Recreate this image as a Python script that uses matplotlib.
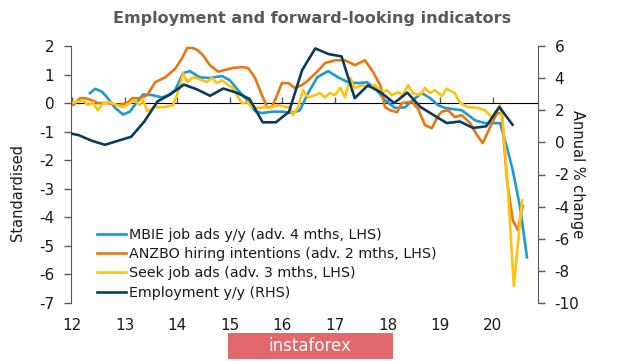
import numpy as np
import matplotlib
matplotlib.use("Agg")
import matplotlib.pyplot as plt
from matplotlib.patches import Rectangle

# ---------------- data ----------------
title = "Employment and forward-looking indicators"
year_ticks = [12, 13, 14, 15, 16, 17, 18, 19, 20]
left_ticks = [2, 1, 0, -1, -2, -3, -4, -5, -6, -7]
right_ticks = [6, 4, 2, 0, -2, -4, -6, -8, -10]

labels = ["MBIE job ads y/y (adv. 4 mths, LHS)",
          "ANZBO hiring intentions (adv. 2 mths, LHS)",
          "Seek job ads (adv. 3 mths, LHS)",
          "Employment y/y (RHS)"]

mbie_x = [12.34, 12.44, 12.57, 12.68, 12.82, 12.97, 13.10, 13.24, 13.35, 13.52, 13.71, 13.83,
          13.96, 14.11, 14.24, 14.43, 14.62, 14.85, 15.00, 15.16, 15.33, 15.48, 15.61, 15.80,
          16.01, 16.18, 16.33, 16.49, 16.66, 16.75, 16.87, 17.06, 17.25, 17.44, 17.61, 17.80,
          17.95, 18.14, 18.33, 18.52, 18.65, 18.81, 18.96, 19.09, 19.41, 19.66, 19.85, 20.04,
          20.14, 20.27, 20.38, 20.52, 20.65]
mbie_y = [0.35, 0.5, 0.4, 0.17, -0.17, -0.4, -0.3, 0.05, 0.3, 0.28, 0.2, 0.28,
          0.45, 1.05, 1.12, 0.9, 0.88, 0.95, 0.8, 0.45, 0.1, -0.28, -0.35, -0.3,
          -0.3, -0.35, -0.25, 0.35, 0.9, 1.0, 1.12, 0.9, 0.73, 0.7, 0.73, 0.45,
          0.1, -0.17, -0.15, 0.17, 0.35, 0.17, -0.07, -0.17, -0.25, -0.6, -0.7, -0.7,
          -0.7, -1.55, -2.35, -3.65, -5.4]

anzbo_x = [11.95, 12.02, 12.15, 12.25, 12.38, 12.49, 12.68, 12.87, 13.05, 13.14, 13.29, 13.43,
           13.58, 13.77, 13.96, 14.09, 14.19, 14.30, 14.38, 14.49, 14.62, 14.78, 14.91, 15.06,
           15.23, 15.35, 15.48, 15.61, 15.71, 15.80, 15.90, 15.99, 16.11, 16.24, 16.37, 16.49,
           16.66, 16.81, 17.00, 17.19, 17.38, 17.57, 17.72, 17.86, 17.95, 18.05, 18.18, 18.27,
           18.46, 18.58, 18.71, 18.84, 18.96, 19.03, 19.15, 19.28, 19.41, 19.57, 19.70, 19.81,
           19.95, 20.08, 20.17, 20.27, 20.38, 20.48, 20.57]
anzbo_y = [0.0, -0.07, 0.17, 0.17, 0.1, 0.0, 0.0, -0.07, 0.0, 0.17, 0.17, 0.28,
           0.73, 0.9, 1.2, 1.57, 1.93, 1.93, 1.86, 1.68, 1.33, 1.1, 1.16, 1.23,
           1.26, 1.23, 0.88, 0.28, -0.14, -0.14, 0.28, 0.7, 0.7, 0.53, 0.63, 0.8,
           1.1, 1.4, 1.5, 1.5, 1.33, 1.5, 1.1, 0.63, -0.14, -0.25, -0.32, 0.0,
           0.05, -0.2, -0.77, -0.88, -0.45, -0.3, -0.25, -0.49, -0.42, -0.7, -1.12, -1.4,
           -0.84, -0.35, -0.35, -2.7, -4.1, -4.45, -3.6]

seek_x = [11.95, 12.06, 12.21, 12.30, 12.40, 12.49, 12.59, 12.72, 12.86, 12.97, 13.10, 13.20,
          13.29, 13.35, 13.43, 13.58, 13.77, 13.92, 14.05, 14.11, 14.19, 14.28, 14.34, 14.47,
          14.57, 14.66, 14.76, 14.85, 14.97, 15.06, 15.16, 15.23, 15.33, 15.42, 15.54, 15.67,
          15.80, 15.92, 16.05, 16.14, 16.20, 16.30, 16.39, 16.49, 16.58, 16.71, 16.81, 16.90,
          17.00, 17.10, 17.19, 17.29, 17.38, 17.51, 17.63, 17.76, 17.89, 17.99, 18.08, 18.20,
          18.29, 18.39, 18.48, 18.62, 18.71, 18.81, 18.90, 19.03, 19.12, 19.28, 19.38, 19.53,
          19.72, 19.85, 19.98, 20.08, 20.14, 20.19, 20.29, 20.40, 20.56]
seek_y = [0.0, 0.03, 0.1, -0.07, 0.03, -0.25, 0.0, 0.03, -0.07, -0.14, 0.0, 0.1,
          -0.07, 0.1, -0.28, -0.14, -0.14, -0.07, 0.56, 1.05, 0.74, 0.88, 0.9, 0.8,
          0.74, 0.88, 0.7, 0.8, 0.63, 0.53, 0.2, 0.0, 0.03, -0.14, -0.17, -0.14,
          -0.14, -0.07, -0.14, -0.14, -0.42, -0.14, 0.45, 0.2, 0.25, 0.35, 0.2, 0.35,
          0.28, 0.53, 0.2, 0.88, 0.53, 0.63, 0.56, 0.63, 0.38, 0.45, 0.28, 0.38,
          0.28, 0.63, 0.35, 0.28, 0.53, 0.35, 0.45, 0.25, 0.5, 0.35, 0.0, -0.14,
          -0.17, -0.25, -0.49, -0.25, -0.07, -0.6, -3.05, -6.4, -3.4]

emp_start = 11.875   # first quarter shown
emp_y = [0.62, 0.45, 0.1, -0.15, 0.1, 0.35, 1.3, 2.55, 3.0, 3.6, 3.3, 2.9,
         3.35, 3.1, 2.7, 1.25, 1.25, 1.9, 4.5, 5.85, 5.5, 5.35, 2.75, 3.55,
         3.1, 2.45, 3.1, 2.2, 1.7, 1.2, 1.3, 0.9, 1.0, 2.2, 1.1]
emp_x = emp_start + 0.25 * np.arange(len(emp_y))

# ---------------- style ----------------
c_mbie = "#1b9ad6"
c_anzbo = "#e8780e"
c_seek = "#ffc20e"
c_emp = "#0d3b5c"
grey = "#595959"
lw = 1.9

plt.rcParams["font.family"] = ["DejaVu Sans"]

fig = plt.figure(figsize=(6.2, 3.61), dpi=100)
ax = fig.add_axes([71/620, 1-303/361, (538-71)/620, (303-46)/361])
ax2 = ax.twinx()

l1, = ax.plot(mbie_x, mbie_y, color=c_mbie, lw=lw, solid_joinstyle="round")
l2, = ax.plot(anzbo_x, anzbo_y, color=c_anzbo, lw=lw, solid_joinstyle="round")
l3, = ax.plot(seek_x, seek_y, color=c_seek, lw=lw, solid_joinstyle="round")
l4, = ax2.plot(emp_x, emp_y, color=c_emp, lw=lw, solid_joinstyle="round")

ax.set_xlim(11.98, 20.86)
ax.set_ylim(-7, 2)
ax2.set_ylim(-10, 6)

for a in (ax, ax2):
    a.spines["top"].set_visible(False)
    a.spines["bottom"].set_visible(False)
    a.patch.set_visible(False)
ax.spines["right"].set_visible(False)
ax2.spines["left"].set_visible(False)
ax.spines["left"].set_color(grey)
ax2.spines["right"].set_color(grey)

ax.set_yticks(left_ticks)
ax.set_yticklabels([str(t) for t in left_ticks])
ax2.set_yticks(right_ticks)
ax2.set_yticklabels([str(t) for t in right_ticks])
ax.tick_params(axis="y", length=5, width=1, color=grey, pad=7, labelsize=11, labelcolor="#1a1a1a")
ax2.tick_params(axis="y", length=5, width=1, color=grey, pad=7, labelsize=11, labelcolor="#1a1a1a")

ax.set_xticks(year_ticks)
ax.set_xticklabels([str(t) for t in year_ticks])
ax.tick_params(axis="x", length=0, pad=11, labelsize=11, labelcolor="#1a1a1a")

# zero line with year ticks
zero_frac = (0 - (-7)) / (2 - (-7))
sec = ax.secondary_xaxis(zero_frac)
sec.set_xticks(year_ticks)
sec.set_xticklabels([])
sec.spines["bottom"].set_color(grey)
sec.spines["bottom"].set_linewidth(1.0)
sec.tick_params(axis="x", length=4, width=1, color=grey, direction="out")

ax.set_ylabel("Standardised", fontsize=10.5, color="#1a1a1a")
ax.yaxis.set_label_coords(-0.098, 0.43)
ax2.set_ylabel("Annual % change", fontsize=10.5, color="#1a1a1a", rotation=270)
ax2.yaxis.set_label_coords(1.10, 0.5)

ax2.legend([l1, l2, l3, l4], labels, loc="lower left", bbox_to_anchor=(0.056, 0.012),
           frameon=False, fontsize=10.3, handlelength=2.0, handletextpad=0.25,
           labelspacing=0.38, borderpad=0, borderaxespad=0, labelcolor="#1a1a1a")

fig.text(312/620, 1-19/361, title, ha="center", va="center", fontsize=11.5,
         fontweight="bold", color=grey)

# watermark
fig.patches.append(Rectangle((228/620, 1-359/361), 165/620, 26/361, transform=fig.transFigure,
                             facecolor="#e2686c", edgecolor="none", zorder=5))
fig.text(310/620, 1-346/361, "instaforex", ha="center", va="center", fontsize=12,
         color="white", zorder=6)

fig.savefig("out.png", dpi=100)
